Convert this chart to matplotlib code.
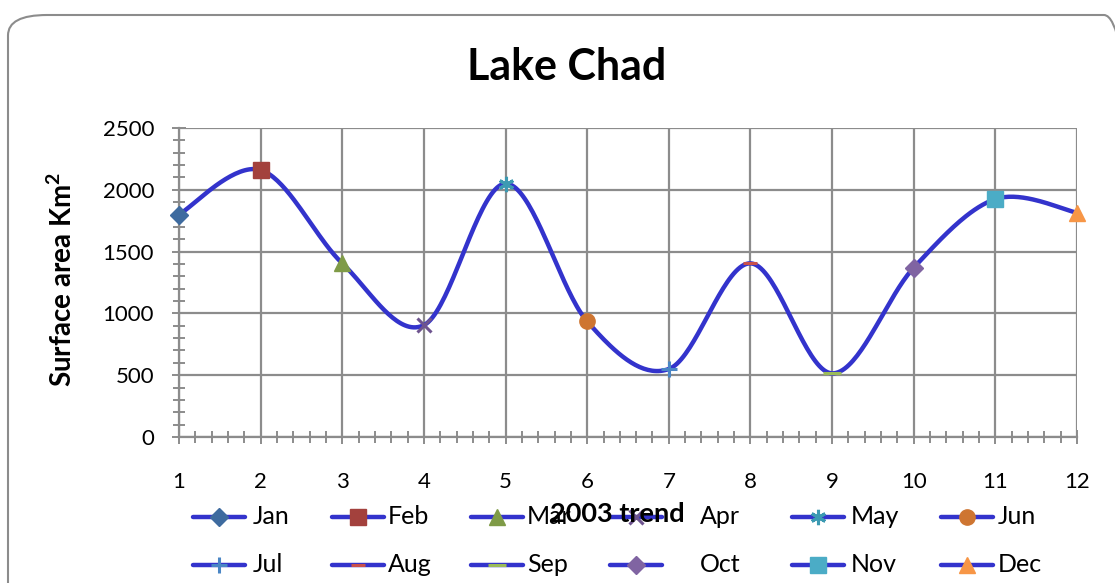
import numpy as np
import matplotlib
matplotlib.use("Agg")
import matplotlib.pyplot as plt
from matplotlib.patches import FancyBboxPatch
from matplotlib.lines import Line2D

# ---- data ----
months = ["Jan", "Feb", "Mar", "Apr", "May", "Jun",
          "Jul", "Aug", "Sep", "Oct", "Nov", "Dec"]
x_pos = [1, 2, 3, 4, 5, 6, 7, 8, 9, 10, 11, 12]
area = [1800, 2160, 1405, 905, 2050, 935, 550, 1405, 515, 1370, 1925, 1815]
y_ticks = [0, 500, 1000, 1500, 2000, 2500]
title = "Lake Chad"
x_label = "2003 trend"
y_label = "Surface area Km$^\\mathbf{2}$"

# ---- styles ----
markers = ["D", "s", "^", "x", (6, 2, 0), "o", "+", "_", "_", "D", "s", "^"]
mcolors = ["#3E6B9F", "#A3413D", "#7F9B47", "#6E548F", "#3C9AB2", "#CE7531",
           "#4A86C5", "#C9504B", "#9BBB59", "#8064A2", "#4BACC6", "#F79646"]
msizes = [9, 11, 12, 10, 11, 11, 12, 10, 13, 9, 11, 12]
line_col = "#3333CC"
grid_col = "#8C8C8C"
FONT = ["Lato", "DejaVu Sans"]
plt.rcParams['font.family'] = FONT
plt.rcParams['mathtext.fontset'] = 'custom'
plt.rcParams['mathtext.bf'] = 'Lato:bold'
plt.rcParams['mathtext.rm'] = 'Lato'

W, H = 1115, 583
fig = plt.figure(figsize=(W / 100, H / 100), dpi=100)

# rounded chart border
fig.patches.append(FancyBboxPatch((8 / W, -0.05), (W + 20) / W, (H - 15) / H + 0.05,
                                  boxstyle="round,pad=0,rounding_size=0.035",
                                  transform=fig.transFigure, fill=False,
                                  edgecolor="#8C8C8C", linewidth=1.5))

L, R, T, B = 179, 1077, 128, 437
ax = fig.add_axes([L / W, 1 - B / H, (R - L) / W, (B - T) / H])
ax.set_xlim(1, 12)
ax.set_ylim(0, 2500)
ax.set_xticks(x_pos)
ax.set_yticks(y_ticks)
ax.set_xticks(np.arange(1, 12.01, 0.2), minor=True)
ax.set_yticks(np.arange(0, 2501, 100), minor=True)
ax.grid(True, which="major", color=grid_col, linewidth=1.6)
ax.set_axisbelow(True)
for s in ax.spines.values():
    s.set_visible(False)
ax.spines["left"].set_visible(True)
ax.spines["bottom"].set_visible(True)
ax.spines["left"].set_color(grid_col)
ax.spines["bottom"].set_color(grid_col)
ax.spines["left"].set_linewidth(1.6)
ax.spines["bottom"].set_linewidth(1.6)
ax.tick_params(which="both", direction="inout", color=grid_col, width=1.4)
ax.tick_params(which="major", length=10)
ax.tick_params(which="minor", length=9)
ax.tick_params(axis="x", which="major", pad=20, labelsize=16)
ax.tick_params(axis="y", which="major", pad=13, labelsize=16)

# smoothed curve (Excel-style Bezier smoothing through the points)
px = np.array(x_pos, float)
py = np.array(area, float)
P = np.column_stack([px, py])
n = len(P)
curve = []
t = np.linspace(0, 1, 40)[:, None]
for i in range(n - 1):
    p0 = P[max(i - 1, 0)]
    p1 = P[i]
    p2 = P[i + 1]
    p3 = P[min(i + 2, n - 1)]
    c1 = p1 + (p2 - p0) / 6
    c2 = p2 - (p3 - p1) / 6
    seg = ((1 - t) ** 3) * p1 + 3 * ((1 - t) ** 2) * t * c1 + 3 * (1 - t) * t ** 2 * c2 + t ** 3 * p2
    curve.append(seg)
curve = np.vstack(curve)
ax.plot(curve[:, 0], curve[:, 1], color=line_col, linewidth=3.2, solid_capstyle="round",
        clip_on=False, zorder=3)


def mew_for(mk):
    return 2.2 if (mk in ("x", "+", "_") or isinstance(mk, tuple)) else 1


for i in range(n):
    mk = markers[i]
    ax.plot([x_pos[i]], [area[i]], marker=mk, color=mcolors[i], markersize=msizes[i],
            markeredgewidth=mew_for(mk), linestyle="none", clip_on=False, zorder=4)

fig.text(62 / W, 1 - 279 / H, y_label, rotation=90, ha="center", va="center",
         fontsize=20, fontweight="bold")
fig.text(567 / W, 1 - 67 / H, title, ha="center", va="center", fontsize=31,
         fontweight="bold")

# legend (manual, Excel style)
cols_h = [193, 332, 471, 610, 792, 941]
text_x = [253, 388, 527, 700, 851, 998]
rows_y = [517, 565]
for i in range(n):
    r, c = divmod(i, 6)
    x0 = cols_h[c]
    x1 = x0 + 52
    yy = 1 - rows_y[r] / H
    fig.add_artist(Line2D([x0 / W, x1 / W], [yy, yy], transform=fig.transFigure,
                          color=line_col, linewidth=3.2, solid_capstyle="round"))
    mk = markers[i]
    fig.add_artist(Line2D([(x0 + x1) / 2 / W], [yy], transform=fig.transFigure,
                          marker=mk, color=mcolors[i], markersize=msizes[i],
                          markeredgewidth=mew_for(mk), linestyle="none"))
    fig.text(text_x[c] / W, yy, months[i], ha="left", va="center", fontsize=18)

fig.text(617 / W, 1 - 514 / H, x_label, ha="center", va="center", fontsize=19.5,
         fontweight="bold")

fig.savefig("out.png", dpi=100)
